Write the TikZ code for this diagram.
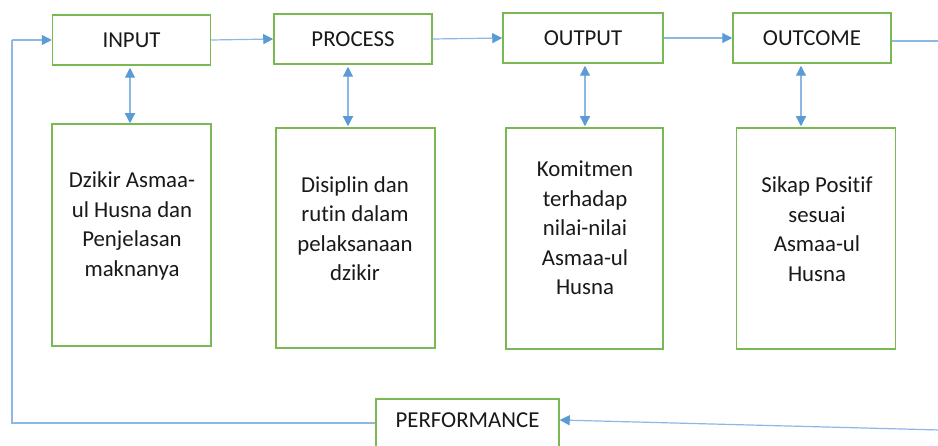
\documentclass[tikz,border=0pt]{standalone}
\usepackage{fontspec}
\setmainfont{Carlito}[Ligatures=NoCommon]
\usetikzlibrary{arrows.meta,calc}
\definecolor{boxgreen}{RGB}{122,184,82}
\definecolor{lineblue}{RGB}{140,184,230}
\definecolor{tipblue}{RGB}{91,155,213}
\definecolor{txt}{RGB}{25,25,25}
\tikzset{
  topbox/.style={draw=boxgreen, line width=1.5pt, minimum width=158pt, minimum height=50pt, inner sep=0pt, text=txt, font=\fontsize{22.8}{29}\selectfont},
  tallbox/.style={draw=boxgreen, line width=1.5pt, inner sep=0pt},
  bodytext/.style={align=center, text=txt, font=\fontsize{22.8}{29.5}\selectfont, inner sep=0pt},
  bluetip/.tip={Triangle[length=10pt,width=10pt,fill=tipblue,color=tipblue]},
  conn/.style={draw=lineblue, line width=1.2pt, -bluetip},
  dconn/.style={draw=lineblue, line width=1.2pt, bluetip-bluetip},
  plain/.style={draw=lineblue, line width=1.2pt}
}
\begin{document}
\begin{tikzpicture}[x=1pt,y=-1pt]
\fill[white] (0,0) rectangle (938,446);
\clip (0,0) rectangle (938,446);
% top boxes
\node[topbox] (in) at (131.5,40) {INPUT};
\node[topbox] (pr) at (353,39) {PROCESS};
\node[topbox, minimum width=160pt] (ou) at (583,38) {OUTPUT};
\node[topbox] (oc) at (812,38) {OUTCOME};
% tall boxes
\node[tallbox, minimum width=159pt, minimum height=222pt] (b1) at (131.5,235) {};
\node[tallbox, minimum width=159pt, minimum height=220pt] (b2) at (355.5,238) {};
\node[tallbox, minimum width=157pt, minimum height=221pt] (b3) at (584.5,238.5) {};
\node[tallbox, minimum width=159pt, minimum height=221pt] (b4) at (816,238.5) {};
\node[bodytext] (t1) at (132,226) {Dzikir Asmaa-\\ul Husna dan\\Penjelasan\\maknanya};
\node[bodytext] (t2) at (355,228.5) {Disiplin dan\\rutin dalam\\pelaksanaan\\dzikir};
\node[bodytext] (t3) at (585,228) {Komitmen\\terhadap\\nilai-nilai\\Asmaa-ul\\Husna};
\node[bodytext] (t4) at (817,229) {Sikap Positif\\sesuai\\Asmaa-ul\\Husna};
% performance
\node[topbox, minimum width=183pt, minimum height=49pt] (pf) at (467.5,423.5) {};
\node[bodytext] (pft) at (467.5,420) {PERFORMANCE};
% coordinates
\coordinate (lt) at (12,40);
\coordinate (lb) at (12,423);
\coordinate (rt) at (940,41);
\coordinate (rb) at (940,430);
% horizontal connectors
\draw[conn] (in.east) -- (pr.west);
\draw[conn] (pr.east) -- (ou.west);
\draw[conn] (ou.east) -- (oc.west);
\draw[plain] ([yshift=-3pt]oc.east) -- (rt);
\draw[conn] (rb) -- ([yshift=3.5pt]pf.east);
\draw[plain] (pf.west |- lb) -- (lb) -- (lt);
\draw[conn] (lt) -- (in.west);
% vertical double arrows
\draw[dconn, shorten <=2pt] ([xshift=-1.5pt]in.south) -- ([xshift=-1.5pt]in.south |- b1.north);
\draw[dconn, shorten <=2pt, shorten >=1pt] ([xshift=-5pt]pr.south) -- ([xshift=-5pt]pr.south |- b2.north);
\draw[dconn, shorten <=2pt, shorten >=1pt] ([xshift=2pt]ou.south) -- ([xshift=2pt]ou.south |- b3.north);
\draw[dconn, shorten <=2pt, shorten >=1pt] ([xshift=-11pt]oc.south) -- ([xshift=-11pt]oc.south |- b4.north);
\end{tikzpicture}
\end{document}
